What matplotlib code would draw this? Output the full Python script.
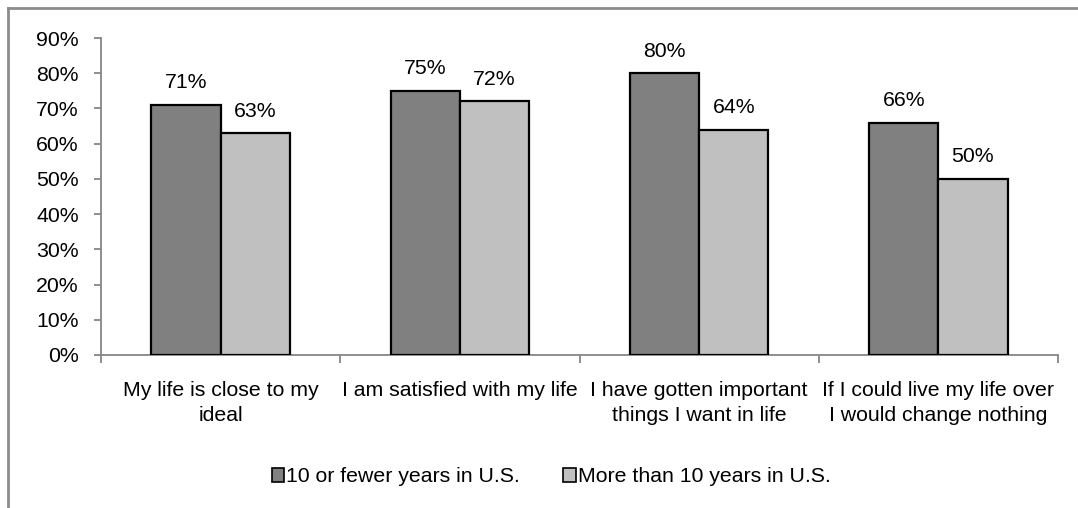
import matplotlib
matplotlib.use("Agg")
import matplotlib.pyplot as plt
from matplotlib.lines import Line2D
from matplotlib.patches import Patch
import numpy as np

plt.rcParams['font.family'] = ['Liberation Sans', 'DejaVu Sans']

categories = [
    "My life is close to my\nideal",
    "I am satisfied with my life",
    "I have gotten important\nthings I want in life",
    "If I could live my life over\nI would change nothing",
]
series_names = ["10 or fewer years in U.S.", "More than 10 years in U.S."]
recent = [71, 75, 80, 66]
longer = [63, 72, 64, 50]
yticks = [0, 10, 20, 30, 40, 50, 60, 70, 80, 90]

dark = "#808080"
light = "#c0c0c0"
axis_col = "#868686"
fs = 15.3

fig = plt.figure(figsize=(10.78, 5.08), dpi=100)
ax = fig.add_axes([101 / 1078, 1 - 355 / 508, (1058 - 101) / 1078, (355 - 38) / 508])

x = np.arange(len(categories))
w = 0.289
b1 = ax.bar(x - w / 2, recent, w, color=dark, edgecolor="black", linewidth=1.6, zorder=3)
b2 = ax.bar(x + w / 2, longer, w, color=light, edgecolor="black", linewidth=1.6, zorder=3)

for bars, vals in ((b1, recent), (b2, longer)):
    for r, v in zip(bars, vals):
        ax.annotate(f"{v}%", (r.get_x() + r.get_width() / 2, v),
                    xytext=(0, 9), textcoords="offset points",
                    ha="center", va="bottom", fontsize=fs)

ax.set_xlim(-0.5, len(categories) - 0.5)
ax.set_ylim(0, 90)
ax.set_yticks(yticks)
ax.set_yticklabels([f"{t}%" for t in yticks], fontsize=fs)

# category labels centred in each slot, ticks on the slot boundaries
ax.set_xticks(x)
ax.set_xticklabels(categories, fontsize=fs, linespacing=1.35)
ax.tick_params(axis="x", length=0, pad=19)
ax.set_xticks(np.arange(len(categories) + 1) - 0.5, minor=True)
ax.tick_params(axis="x", which="minor", length=6, color=axis_col, width=1.3)
ax.tick_params(axis="y", length=5, color=axis_col, width=1.3, pad=11)

for side in ("top", "right"):
    ax.spines[side].set_visible(False)
for side in ("left", "bottom"):
    ax.spines[side].set_color(axis_col)
    ax.spines[side].set_linewidth(1.3)

handles = [Patch(facecolor=dark, edgecolor="black", linewidth=1.2),
           Patch(facecolor=light, edgecolor="black", linewidth=1.2)]
fig.legend(handles, series_names, loc="center", bbox_to_anchor=(551 / 1078, 1 - 477 / 508),
           ncol=2, frameon=False, fontsize=fs, handlelength=0.6, handleheight=0.6,
           handletextpad=0.1, columnspacing=2.0)

# outer chart frame
fig.add_artist(Line2D([8 / 1078, 1.0], [1 - 8 / 508, 1 - 8 / 508],
                      transform=fig.transFigure, color="#8c8c8c", linewidth=2))
fig.add_artist(Line2D([8 / 1078, 8 / 1078], [0.0, 1 - 8 / 508],
                      transform=fig.transFigure, color="#8c8c8c", linewidth=2))

fig.savefig("out.png", dpi=100)
